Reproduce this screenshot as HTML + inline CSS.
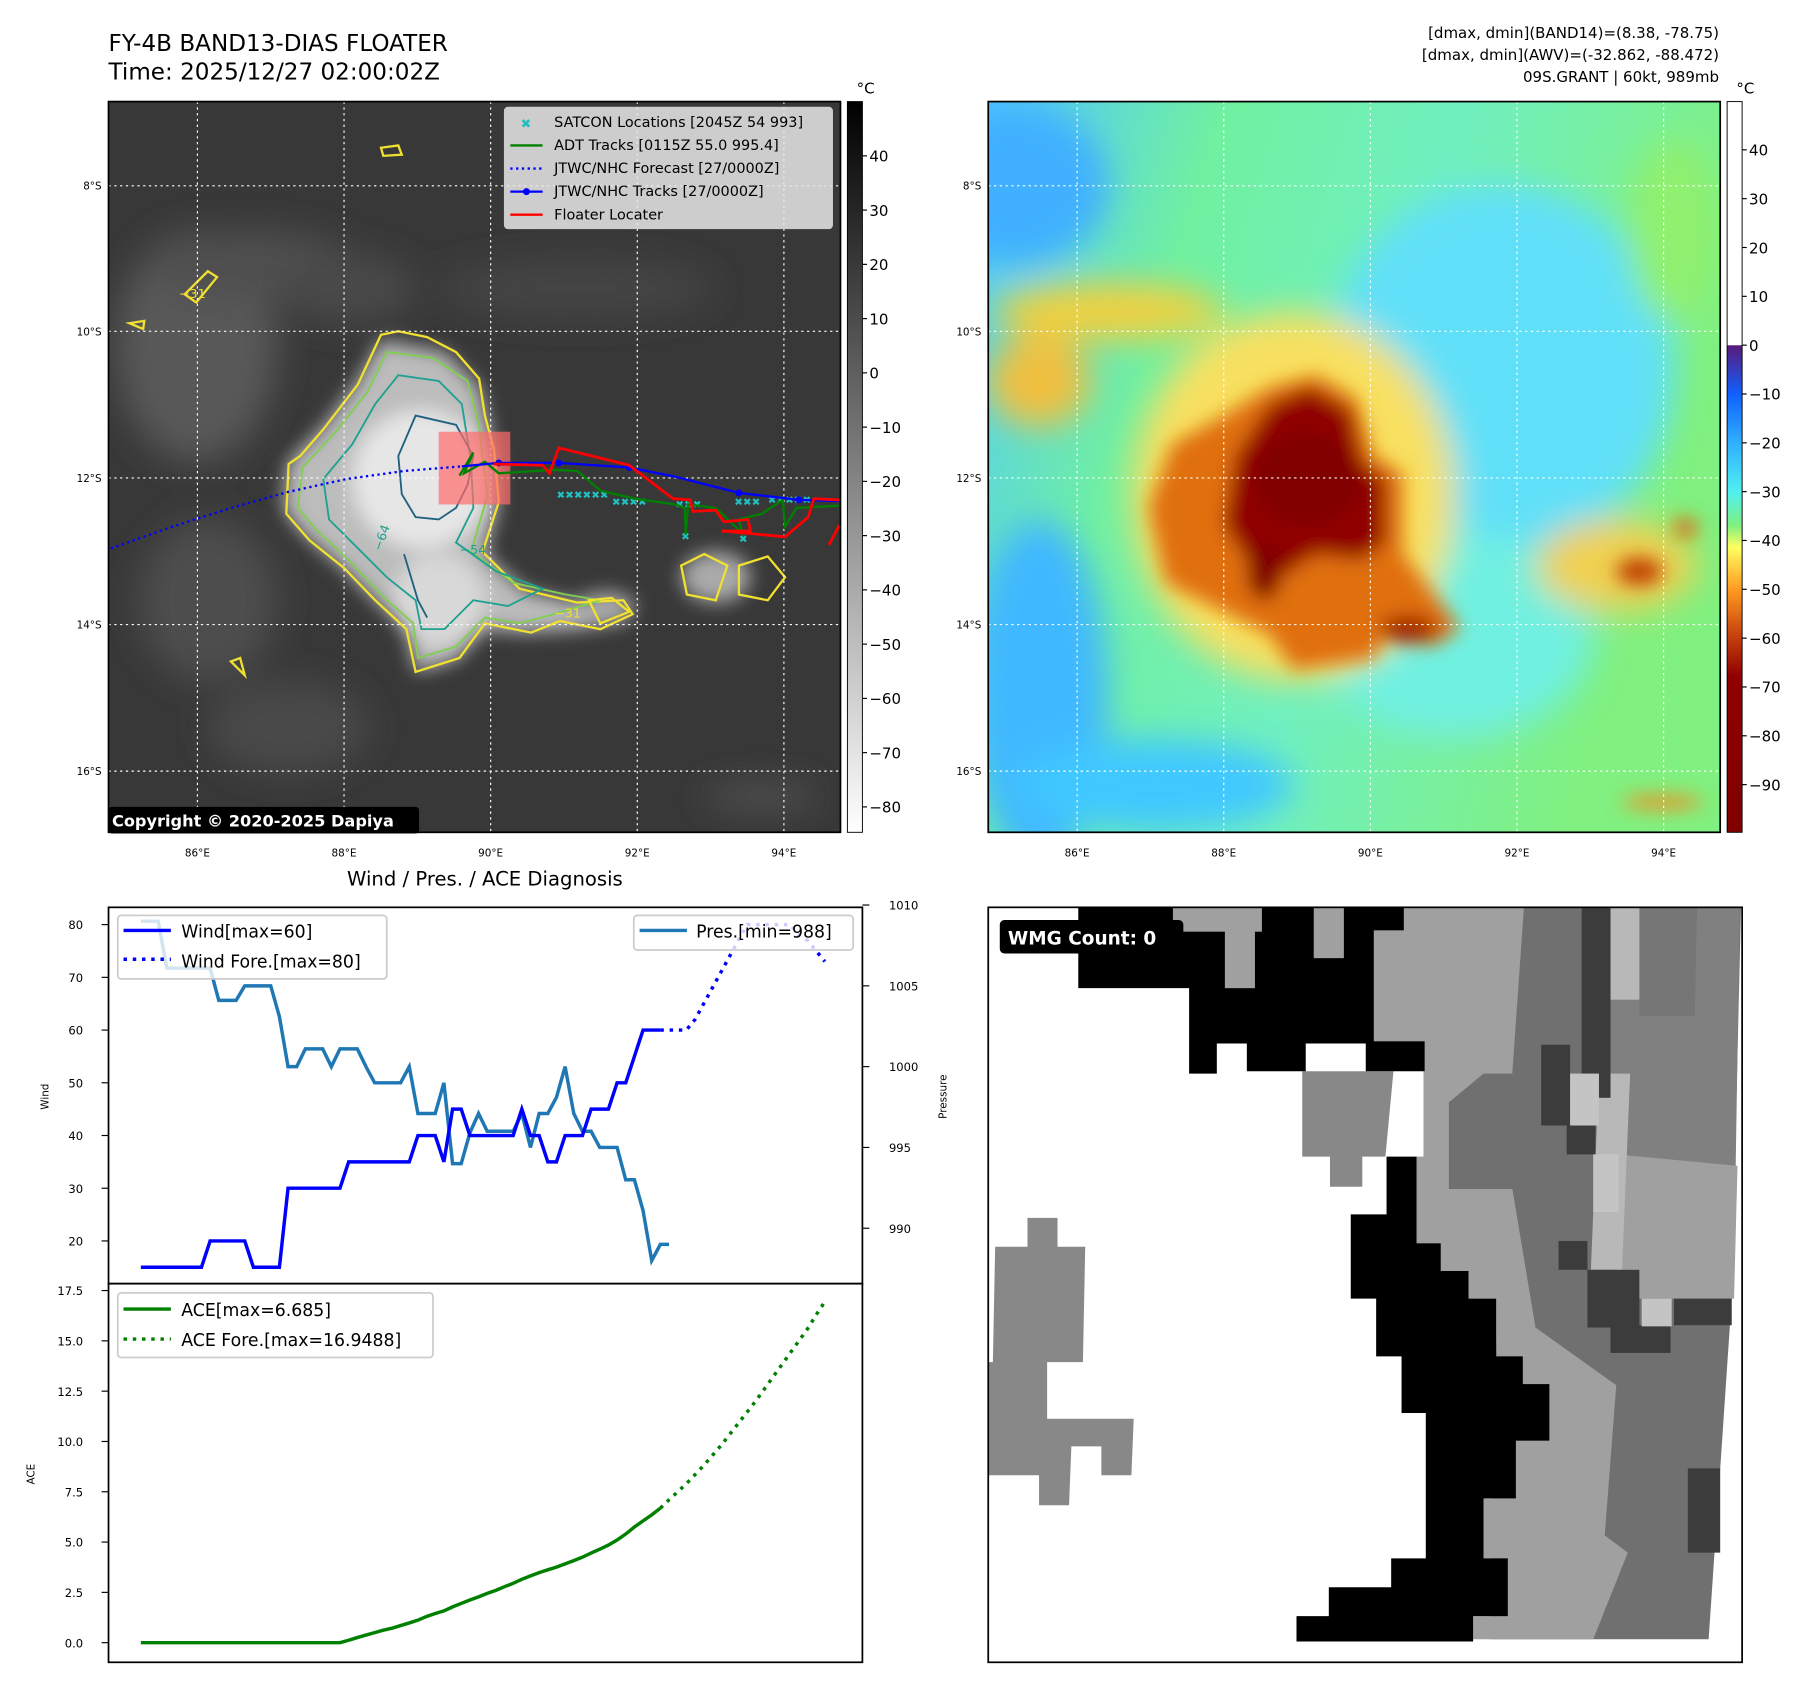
<!DOCTYPE html>
<html><head><meta charset="utf-8">
<style>
html,body{margin:0;padding:0;background:#fff;}
svg{display:block;font-family:"DejaVu Sans","Liberation Sans",sans-serif;}
</style></head>
<body>
<svg id="fig" width="1801" height="1690" viewBox="0 0 1560 1464" preserveAspectRatio="none" xmlns="http://www.w3.org/2000/svg">
<defs>
<clipPath id="c1"><rect x="94" y="88" width="634" height="633"/></clipPath>
<clipPath id="c2"><rect x="856" y="88" width="634" height="633"/></clipPath>
<clipPath id="cw"><rect x="94" y="786" width="653" height="326"/></clipPath>
<clipPath id="ca"><rect x="94" y="1112" width="653" height="328"/></clipPath>
<filter id="b8"><feGaussianBlur stdDeviation="8"/></filter>
<filter id="b4"><feGaussianBlur stdDeviation="4"/></filter>
<filter id="b15"><feGaussianBlur stdDeviation="15"/></filter>
<linearGradient id="cb1" x1="0" y1="0" x2="0" y2="1"><stop offset="0" stop-color="#000"/><stop offset="1" stop-color="#fff"/></linearGradient>
<linearGradient id="cb2" x1="0" y1="0" x2="0" y2="1">
<stop offset="0" stop-color="#fff"/><stop offset="0.333" stop-color="#fff"/>
<stop offset="0.334" stop-color="#5a1a7a"/><stop offset="0.40" stop-color="#1060ff"/>
<stop offset="0.468" stop-color="#30b0ff"/><stop offset="0.535" stop-color="#50f0f0"/>
<stop offset="0.58" stop-color="#80f080"/><stop offset="0.61" stop-color="#ffff60"/>
<stop offset="0.668" stop-color="#ff9a20"/><stop offset="0.72" stop-color="#d05010"/>
<stop offset="0.786" stop-color="#900000"/><stop offset="1" stop-color="#800000"/>
</linearGradient>
<linearGradient id="bg2" x1="0" y1="0" x2="1" y2="0.3">
<stop offset="0" stop-color="#50c8ff"/><stop offset="0.3" stop-color="#70f0a0"/><stop offset="0.6" stop-color="#70f0c0"/><stop offset="1" stop-color="#80f080"/>
</linearGradient>
</defs>

<!-- Titles -->
<text x="94" y="44" font-size="20">FY-4B BAND13-DIAS FLOATER</text>
<text x="94" y="69" font-size="20">Time: 2025/12/27 02:00:02Z</text>
<g font-size="13" text-anchor="end">
<text x="1489" y="33">[dmax, dmin](BAND14)=(8.38, -78.75)</text>
<text x="1489" y="52">[dmax, dmin](AWV)=(-32.862, -88.472)</text>
<text x="1489" y="71">09S.GRANT | 60kt, 989mb</text>
</g>

<!-- MAP 1 -->
<g>
<g clip-path="url(#c1)">
<rect x="94" y="88" width="634" height="633" fill="#383838"/>
<g filter="url(#b15)">
<ellipse cx="170" cy="300" rx="70" ry="100" fill="#585858"/>
<ellipse cx="220" cy="230" rx="90" ry="30" fill="#505050"/>
<ellipse cx="180" cy="520" rx="60" ry="70" fill="#4e4e4e"/>
<ellipse cx="300" cy="250" rx="60" ry="30" fill="#4a4a4a"/>
<ellipse cx="500" cy="250" rx="120" ry="25" fill="#444"/>
<ellipse cx="250" cy="630" rx="70" ry="40" fill="#4a4a4a"/>
<ellipse cx="660" cy="690" rx="50" ry="10" fill="#555"/>
</g>
<g filter="url(#b8)">
<path d="M330,295 L385,305 L415,335 L428,390 L432,435 L420,480 L455,512 L500,522 L540,522 L545,538 L500,545 L455,548 L420,545 L395,572 L360,582 L352,545 L325,520 L295,490 L262,462 L245,440 L250,400 L280,370 L310,330 Z" fill="#bcbcbc"/>
<ellipse cx="365" cy="415" rx="60" ry="60" fill="#e6e6e6"/>
<ellipse cx="380" cy="520" rx="40" ry="40" fill="#d8d8d8"/>
<ellipse cx="620" cy="500" rx="30" ry="22" fill="#aaa"/>
<ellipse cx="525" cy="525" rx="25" ry="12" fill="#aaa"/>
</g>
<!-- contours -->
<path d="M330,290 L345,287 L370,292 L395,305 L415,328 L420,360 L428,390 L432,435 L418,478 L450,510 L500,522 L540,520 L548,532 L520,545 L485,538 L460,548 L420,540 L398,570 L360,582 L352,545 L325,520 L298,492 L268,468 L248,445 L250,402 L260,395 L280,372 L310,333 Z" fill="none" stroke="#f0e030" stroke-width="2"/>
<path d="M335,305 L375,310 L405,330 L415,370 L422,430 L408,478 L445,505 L490,515 L520,520 L480,532 L450,540 L420,535 L395,560 L362,570 L358,540 L330,515 L302,485 L275,460 L258,440 L262,405 L290,375 L318,340 Z" fill="none" stroke="#80d050" stroke-width="1.6"/>
<path d="M345,325 L380,330 L400,350 L408,400 L410,440 L395,470 L430,495 L470,510 L440,525 L410,520 L385,545 L365,545 L360,520 L335,500 L310,475 L285,450 L280,415 L305,385 L325,350 Z" fill="none" stroke="#20a090" stroke-width="1.6"/>
<path d="M360,360 L395,368 L410,395 L405,420 L395,440 L380,450 L360,448 L348,428 L345,395 Z" fill="none" stroke="#206080" stroke-width="1.6"/>
<path d="M350,480 L362,520 L370,535" fill="none" stroke="#206080" stroke-width="1.6"/>
<path d="M590,490 L610,480 L630,490 L620,520 L595,515 Z M640,490 L665,482 L680,500 L665,520 L640,515 Z M510,520 L530,518 L545,530 L520,540 Z" fill="none" stroke="#f0e030" stroke-width="2"/>
<path d="M330,128 L345,126 L348,134 L332,135 Z M160,255 L180,235 L188,240 L170,262 Z M112,280 L125,278 L124,285 Z M200,573 L208,570 L212,585 Z" fill="none" stroke="#f0e030" stroke-width="2"/>
<text x="155" y="258" font-size="11" fill="#f0e030">−31</text>
<text x="330" y="478" font-size="11" fill="#20a090" transform="rotate(-70 330 478)">−64</text>
<text x="398" y="480" font-size="11" fill="#20a090">−54</text>
<text x="480" y="535" font-size="11" fill="#f0e030">−31</text>
<g stroke="#fff" stroke-width="1" stroke-dasharray="2,3">
<line x1="171" y1="88" x2="171" y2="721"/><line x1="298" y1="88" x2="298" y2="721"/><line x1="425" y1="88" x2="425" y2="721"/><line x1="552" y1="88" x2="552" y2="721"/><line x1="679" y1="88" x2="679" y2="721"/>
<line x1="94" y1="161" x2="728" y2="161"/><line x1="94" y1="287" x2="728" y2="287"/><line x1="94" y1="414" x2="728" y2="414"/><line x1="94" y1="541" x2="728" y2="541"/><line x1="94" y1="668" x2="728" y2="668"/>
</g>
<rect x="380" y="374" width="62" height="63" fill="#ff6b6b" opacity="0.7"/>
<polyline points="96,475 150,456 200,440 250,426 300,415 350,408 400,404" fill="none" stroke="#00f" stroke-width="2" stroke-dasharray="2,3"/>
<g fill="#20c0c0" font-size="9" font-weight="bold">
<text x="482" y="432">✖✖✖✖✖✖</text><text x="530" y="438">✖✖✖✖</text><text x="585" y="440">✖✖✖</text><text x="590" y="468">✖</text><text x="636" y="438">✖✖✖</text><text x="640" y="470">✖</text><text x="665" y="436">✖✖✖✖✖</text>
</g>
<polyline points="398,412 410,392 402,410 420,400 432,410 480,407 500,408 520,425 550,432 585,437 593,440 594,463 596,437 620,440 643,462 640,450 660,445 678,433 680,456 690,440 727,438" fill="none" stroke="#008000" stroke-width="2"/>
<polyline points="400,404 432,401 484,401 545,405 585,413 640,427 692,433 727,434" fill="none" stroke="#00f" stroke-width="2"/>
<g fill="#00f"><circle cx="432" cy="401" r="3"/><circle cx="484" cy="401" r="3"/><circle cx="545" cy="405" r="3"/><circle cx="640" cy="427" r="3"/><circle cx="692" cy="433" r="3"/></g>
<polyline points="428,402 470,403 476,410 484,388 545,403 583,432 598,433 600,443 620,442 627,452 648,450 650,460 625,460 680,465 700,448 705,432 727,433" fill="none" stroke="#f00" stroke-width="2.4"/>
<polyline points="718,472 727,455" fill="none" stroke="#f00" stroke-width="2.4"/>
</g>
<rect x="94" y="88" width="634" height="633" fill="none" stroke="#000" stroke-width="1.5"/>
<g>
<rect x="437" y="93" width="284" height="105" rx="3" fill="#e8e8e8" fill-opacity="0.85" stroke="#ccc"/>
<g font-size="12.5">
<text x="451" y="111" fill="#20c0c0" font-weight="bold" font-size="11">✖</text>
<text x="480" y="110">SATCON Locations [2045Z 54 993]</text>
<line x1="442" y1="126" x2="470" y2="126" stroke="#008000" stroke-width="2"/><text x="480" y="130">ADT Tracks [0115Z 55.0 995.4]</text>
<line x1="442" y1="146" x2="470" y2="146" stroke="#00f" stroke-width="2" stroke-dasharray="2,3"/><text x="480" y="150">JTWC/NHC Forecast [27/0000Z]</text>
<line x1="442" y1="166" x2="470" y2="166" stroke="#00f" stroke-width="2"/><circle cx="456" cy="166" r="3" fill="#00f"/><text x="480" y="170">JTWC/NHC Tracks [27/0000Z]</text>
<line x1="442" y1="186" x2="470" y2="186" stroke="#f00" stroke-width="2"/><text x="480" y="190">Floater Locater</text>
</g></g>
<rect x="94" y="699" width="269" height="23" rx="3" fill="#000"/>
<text x="97" y="716" font-size="14" font-weight="bold" fill="#fff">Copyright © 2020-2025 Dapiya</text>
</g>

<g>
<rect x="734" y="88" width="13" height="633" fill="url(#cb1)" stroke="#000" stroke-width="0.8"/>
<text x="742" y="81" font-size="13">°C</text>
<g font-size="13" id="cb1labels"></g>
</g>

<!-- MAP 2 -->
<g>
<g clip-path="url(#c2)">
<rect x="856" y="88" width="634" height="633" fill="url(#bg2)"/>
<g filter="url(#b15)">
<ellipse cx="880" cy="160" rx="80" ry="70" fill="#40b0ff"/>
<ellipse cx="900" cy="600" rx="60" ry="150" fill="#40b8ff"/>
<ellipse cx="1000" cy="680" rx="120" ry="40" fill="#40c8ff"/>
<ellipse cx="1300" cy="320" rx="150" ry="160" fill="#60e0f8"/>
<ellipse cx="1260" cy="550" rx="120" ry="90" fill="#70f0e0"/>
<ellipse cx="1450" cy="200" rx="40" ry="80" fill="#90f070"/>
<ellipse cx="960" cy="270" rx="100" ry="25" fill="#f0d040"/>
<ellipse cx="900" cy="330" rx="45" ry="40" fill="#f0c040"/>
<ellipse cx="1400" cy="490" rx="70" ry="40" fill="#f0d050"/>
<ellipse cx="1120" cy="430" rx="140" ry="160" fill="#f8e060"/>
</g>
<g filter="url(#b8)">
<path d="M1140,325 L1175,345 L1190,395 L1215,410 L1215,480 L1250,525 L1265,545 L1240,560 L1200,550 L1190,570 L1120,580 L1100,550 L1050,525 L1010,505 L995,440 L1015,385 L1060,360 L1100,335 Z" fill="#e07010"/>
<path d="M1135,335 L1170,355 L1180,400 L1200,415 L1200,470 L1180,485 L1140,480 L1110,500 L1080,485 L1060,455 L1070,395 L1100,350 Z" fill="#900000"/>
<ellipse cx="1132" cy="415" rx="45" ry="40" fill="#800000"/>
<ellipse cx="1095" cy="495" rx="15" ry="25" fill="#800000"/>
<ellipse cx="1220" cy="545" rx="25" ry="12" fill="#a02000"/>
<ellipse cx="1420" cy="495" rx="20" ry="12" fill="#c04000"/>
<ellipse cx="1460" cy="457" rx="10" ry="8" fill="#e06010"/>
<ellipse cx="1440" cy="695" rx="35" ry="6" fill="#f09020"/>
</g>
<g stroke="#fff" stroke-width="1" stroke-dasharray="2,3">
<line x1="933" y1="88" x2="933" y2="721"/><line x1="1060" y1="88" x2="1060" y2="721"/><line x1="1187" y1="88" x2="1187" y2="721"/><line x1="1314" y1="88" x2="1314" y2="721"/><line x1="1441" y1="88" x2="1441" y2="721"/>
<line x1="856" y1="161" x2="1490" y2="161"/><line x1="856" y1="287" x2="1490" y2="287"/><line x1="856" y1="414" x2="1490" y2="414"/><line x1="856" y1="541" x2="1490" y2="541"/><line x1="856" y1="668" x2="1490" y2="668"/>
</g>
</g>
<rect x="856" y="88" width="634" height="633" fill="none" stroke="#000" stroke-width="1.5"/>
</g>
<g>
<rect x="1496" y="88" width="13" height="633" fill="url(#cb2)" stroke="#000" stroke-width="0.8"/>
<text x="1504" y="81" font-size="13">°C</text>
<g font-size="13" id="cb2labels"></g>
</g>

<g font-size="9" id="maplabels"></g>

<text x="420" y="767" font-size="17" text-anchor="middle">Wind / Pres. / ACE Diagnosis</text>
<g id="windpanel"></g>
<g id="acepanel"></g>

<!-- WMG -->
<g>
<rect x="856" y="786" width="653" height="654" fill="#fff"/>
<polygon points="1300,786 1508,786 1500,1125 1480,1420 1290,1420 1300,1000" fill="#707070"/>
<g fill="#a0a0a0">
<polygon points="1216,786 1320,786 1305,1000 1330,1150 1400,1200 1390,1330 1410,1345 1380,1420 1276,1420 1276,1400 1306,1400 1306,1350 1285,1350 1285,1298 1313,1298 1313,1248 1342,1248 1342,1199 1319,1199 1319,1175 1296,1175 1296,1125 1272,1125 1272,1101 1248,1101 1248,1077 1227,1077 1227,1002 1233,1002 1233,902 1190,902 1190,806 1216,806"/>
<rect x="1016" y="786" width="77" height="21"/><rect x="1061" y="806" width="26" height="50"/><rect x="1138" y="786" width="26" height="44"/>
</g>
<polygon points="1255,955 1285,930 1340,930 1345,1030 1255,1030" fill="#707070"/>
<polygon points="1395,786 1507,786 1502,1100 1380,1100 1385,960" fill="#808080"/>
<polygon points="1420,786 1470,786 1468,880 1420,880" fill="#767676"/>
<polygon points="1400,1000 1505,1010 1502,1125 1400,1125" fill="#a0a0a0"/>
<g fill="#b8b8b8"><polygon points="1385,930 1412,930 1405,1100 1378,1100"/><rect x="1395" y="786" width="25" height="80"/></g>
<g fill="#888"><polygon points="1128,928 1207,928 1200,1002 1180,1002 1180,1028 1152,1028 1152,1002 1128,1002"/>
<polygon points="890,1055 916,1055 916,1080 940,1080 938,1180 907,1180 907,1229 982,1229 980,1278 954,1278 954,1253 928,1253 926,1304 900,1304 900,1278 856,1278 856,1180 860,1180 862,1080 890,1080"/></g>
<g fill="#000">
<polygon points="934,786 1016,786 1016,807 1061,807 1061,856 1087,856 1087,807 1093,807 1093,786 1138,786 1138,830 1164,830 1164,786 1216,786 1216,806 1190,806 1190,902 1234,902 1234,928 1183,928 1183,904 1131,904 1131,928 1080,928 1080,904 1054,904 1054,930 1030,930 1030,856 934,856"/>
<polygon points="1201,1002 1227,1002 1227,1077 1248,1077 1248,1101 1272,1101 1272,1125 1296,1125 1296,1175 1319,1175 1319,1199 1342,1199 1342,1248 1313,1248 1313,1298 1285,1298 1285,1350 1306,1350 1306,1400 1276,1400 1276,1422 1123,1422 1123,1400 1151,1400 1151,1375 1205,1375 1205,1350 1235,1350 1235,1224 1214,1224 1214,1175 1192,1175 1192,1125 1170,1125 1170,1052 1201,1052"/>
</g>
<g fill="#3c3c3c"><rect x="1370" y="786" width="25" height="165"/><rect x="1335" y="905" width="25" height="70"/><rect x="1357" y="975" width="25" height="25"/><rect x="1350" y="1075" width="25" height="25"/><rect x="1375" y="1100" width="45" height="50"/><rect x="1395" y="1148" width="52" height="24"/><rect x="1450" y="1125" width="50" height="23"/><rect x="1462" y="1272" width="28" height="73"/></g>
<g fill="#c4c4c4"><rect x="1360" y="930" width="25" height="45"/><rect x="1422" y="1125" width="26" height="24"/><rect x="1380" y="1000" width="22" height="50"/></g>
<rect x="856" y="786" width="653" height="654" fill="none" stroke="#000" stroke-width="1.5"/>
<rect x="866" y="797" width="159" height="29" rx="4" fill="#000"/>
<text x="873" y="818" font-size="16" font-weight="bold" fill="#fff">WMG Count: 0</text>
</g>
</svg>

<script>
const windObs = [15,15,15,15,15,15,15,15,20,20,20,20,20,15,15,15,15,30,30,30,30,30,30,30,35,35,35,35,35,35,35,35,40,40,40,35,45,45,40,40,40,40,40,40,45,40,40,35,35,40,40,40,45,45,45,50,50,55,60,60,60];
const windFore = [60,60,60,60,62,65,68,71,74,77,80,80,80,80,80,80,78,77,75,73];
const presObs = [1009,1009,1009,1006.1,1006.1,1006.1,1006.1,1006.1,1006.1,1004.1,1004.1,1004.1,1005,1005,1005,1005,1003.1,1000,1000,1001.1,1001.1,1001.1,1000,1001.1,1001.1,1001.1,1000,999,999,999,999,1000,997.1,997.1,997.1,999,994,994,995.9,997.1,996,996,996,996,997.1,995,997.1,997.1,998.1,1000,997.1,996,996,995,995,995,993,993,991.1,988,989,989];
const aceObs = [0,0,0,0,0,0,0,0,0,0,0,0,0,0,0,0,0,0,0,0,0,0,0,0,0.12,0.25,0.38,0.5,0.62,0.72,0.85,0.98,1.12,1.3,1.45,1.58,1.78,1.95,2.12,2.28,2.45,2.6,2.78,2.95,3.15,3.32,3.48,3.62,3.75,3.92,4.08,4.25,4.45,4.65,4.85,5.1,5.4,5.75,6.05,6.35,6.685];
const aceFore = [6.685,7.1,7.5,7.9,8.35,8.8,9.3,9.8,10.35,10.9,11.45,12.0,12.6,13.2,13.8,14.4,15.0,15.6,16.3,16.95];
const windTicks = [20,30,40,50,60,70,80];
const presTicks = [990,995,1000,1005,1010];
const aceTicks = [0,2.5,5,7.5,10,12.5,15,17.5];
const cb1Ticks = [40,30,20,10,0,-10,-20,-30,-40,-50,-60,-70,-80];
const cb2Ticks = [40,30,20,10,0,-10,-20,-30,-40,-50,-60,-70,-80,-90];
const lonTicks = [86,88,90,92,94];
const latTicks = [8,10,12,14,16];

const NS='http://www.w3.org/2000/svg';
function mk(tag, attrs, parent){const e=document.createElementNS(NS,tag);for(const k in attrs)e.setAttribute(k,attrs[k]);parent.appendChild(e);return e;}
function txt(s, attrs, parent){const e=mk('text',attrs,parent);e.textContent=s;return e;}
const fmtMinus = v => (v<0?'\u2212'+Math.abs(v):String(v));

const xIdx = i => 122 + i*7.5;
const yWind = w => 1075 - (w-20)*4.567;
const yPres = p => 784 + (1010-p)*14.0;
const yAce = a => 1423 - a*17.43;
const yCb1 = v => 323 - v*4.7;
const yCb2 = v => 299 - v*4.23;
const xLon = (lon, off) => 171 + (lon-86)*63.5 + off;
const yLat = lat => 161 + (lat-8)*63.4;

const g1=document.getElementById('cb1labels');
cb1Ticks.forEach(v=>{mk('line',{x1:747,x2:751,y1:yCb1(v),y2:yCb1(v),stroke:'#000'},g1);const t=txt(fmtMinus(v),{x:753,y:yCb1(v)+5},g1);

});
const g2=document.getElementById('cb2labels');
cb2Ticks.forEach(v=>{mk('line',{x1:1509,x2:1513,y1:yCb2(v),y2:yCb2(v),stroke:'#000'},g2);const t=txt(fmtMinus(v),{x:1515,y:yCb2(v)+5},g2);

});

const gm=document.getElementById('maplabels');
[0,762].forEach(off=>{
  lonTicks.forEach(l=>{const t=txt(l+'°E',{x:xLon(l,off),y:742,'text-anchor':'middle'},gm);
  
  });
  latTicks.forEach(l=>{const t=txt(l+'°S',{x:88+off,y:yLat(l)+3,'text-anchor':'end'},gm);
  
  });
});

function pts(arr, fy, start){return arr.map((v,i)=>xIdx(i+start).toFixed(1)+','+fy(v).toFixed(1)).join(' ');}

const gw=document.getElementById('windpanel');
const wc=mk('g',{'clip-path':'url(#cw)'},gw);
const pl=mk('polyline',{points:pts(presObs,yPres,0),fill:'none',stroke:'#1f77b4','stroke-width':3},wc);


const wl=mk('polyline',{points:pts(windObs,yWind,0),fill:'none',stroke:'#0000ff','stroke-width':3},wc);


const wf=mk('polyline',{points:pts(windFore,yWind,windObs.length-1),fill:'none',stroke:'#0000ff','stroke-width':3,'stroke-dasharray':'3,5'},wc);


mk('rect',{x:94,y:786,width:653,height:326,fill:'none',stroke:'#000','stroke-width':1.5},gw);
windTicks.forEach(v=>{mk('line',{x1:88,x2:94,y1:yWind(v),y2:yWind(v),stroke:'#000'},gw);const t=txt(v,{x:72,y:yWind(v)+4,'font-size':10,'text-anchor':'end'},gw);

});
presTicks.forEach(v=>{mk('line',{x1:747,x2:753,y1:yPres(v),y2:yPres(v),stroke:'#000'},gw);const t=txt(v,{x:770,y:yPres(v)+4,'font-size':10},gw);

});
txt('Wind',{x:42,y:950,'font-size':9,'text-anchor':'middle',transform:'rotate(-90 42 950)'},gw);
txt('Pressure',{x:820,y:950,'font-size':9,'text-anchor':'middle',transform:'rotate(-90 820 950)'},gw);
const lw=mk('g',{},gw);


mk('rect',{x:102,y:793,width:233,height:55,rx:3,fill:'#fff','fill-opacity':0.8,stroke:'#ccc','stroke-width':1.5},lw);
mk('line',{x1:107,x2:148,y1:806,y2:806,stroke:'#00f','stroke-width':3},lw);
txt('Wind[max=60]',{x:157,y:812,'font-size':15},lw);
mk('line',{x1:107,x2:148,y1:831,y2:831,stroke:'#00f','stroke-width':3,'stroke-dasharray':'3,5'},lw);
txt('Wind Fore.[max=80]',{x:157,y:838,'font-size':15},lw);
const lp=mk('g',{},gw);


mk('rect',{x:549,y:793,width:190,height:30,rx:3,fill:'#fff','fill-opacity':0.8,stroke:'#ccc','stroke-width':1.5},lp);
mk('line',{x1:554,x2:595,y1:806,y2:806,stroke:'#1f77b4','stroke-width':3},lp);
txt('Pres.[min=988]',{x:603,y:812,'font-size':15},lp);

const ga=document.getElementById('acepanel');
const ac=mk('g',{'clip-path':'url(#ca)'},ga);
const al=mk('polyline',{points:pts(aceObs,yAce,0),fill:'none',stroke:'#008000','stroke-width':3},ac);


const af=mk('polyline',{points:pts(aceFore,yAce,aceObs.length-1),fill:'none',stroke:'#008000','stroke-width':3,'stroke-dasharray':'3,5'},ac);


mk('rect',{x:94,y:1112,width:653,height:328,fill:'none',stroke:'#000','stroke-width':1.5},ga);
aceTicks.forEach(v=>{mk('line',{x1:88,x2:94,y1:yAce(v),y2:yAce(v),stroke:'#000'},ga);const t=txt(v.toFixed(1),{x:72,y:yAce(v)+4,'font-size':10,'text-anchor':'end'},ga);

});
txt('ACE',{x:30,y:1277,'font-size':9,'text-anchor':'middle',transform:'rotate(-90 30 1277)'},ga);
const la=mk('g',{},ga);


mk('rect',{x:102,y:1120,width:273,height:56,rx:3,fill:'#fff','fill-opacity':0.8,stroke:'#ccc','stroke-width':1.5},la);
mk('line',{x1:107,x2:148,y1:1134,y2:1134,stroke:'#008000','stroke-width':3},la);
txt('ACE[max=6.685]',{x:157,y:1140,'font-size':15},la);
mk('line',{x1:107,x2:148,y1:1160,y2:1160,stroke:'#008000','stroke-width':3,'stroke-dasharray':'3,5'},la);
txt('ACE Fore.[max=16.9488]',{x:157,y:1166,'font-size':15},la);
</script>
</body></html>
